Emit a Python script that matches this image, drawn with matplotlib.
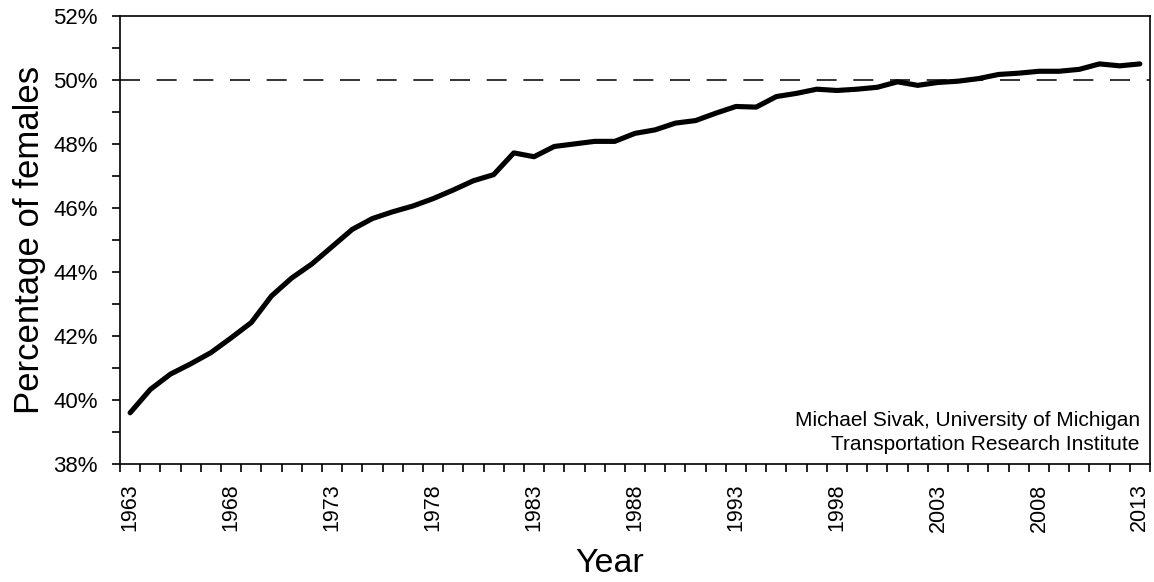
import matplotlib
matplotlib.use("Agg")
import matplotlib.pyplot as plt
import numpy as np
from matplotlib.ticker import FixedLocator, MultipleLocator, FuncFormatter

plt.rcParams["font.family"] = ["Liberation Sans", "DejaVu Sans"]

years = list(range(1963, 2014))
pct_female = [
    39.60, 40.33, 40.81, 41.13, 41.48, 41.94, 42.42, 43.25, 43.81, 44.25,
    44.79, 45.33, 45.67, 45.88, 46.06, 46.29, 46.56, 46.85, 47.04, 47.72,
    47.60, 47.92, 48.00, 48.08, 48.08, 48.33, 48.44, 48.65, 48.73, 48.96,
    49.17, 49.15, 49.48, 49.58, 49.71, 49.67, 49.71, 49.77, 49.94, 49.83,
    49.92, 49.96, 50.04, 50.17, 50.21, 50.27, 50.27, 50.33, 50.50, 50.44,
    50.50,
]
label_years = years[::5]
parity = 50.0

fig = plt.figure(figsize=(11.54, 5.82), dpi=100)
ax = fig.add_axes([0.104, 0.2027, 0.8925, 0.77])

ax.axhline(parity, color="#111111", linewidth=1.2, linestyle=(0, (12, 10)), zorder=1)
ax.plot(years, pct_female, color="black", linewidth=3.7, solid_capstyle="round",
        solid_joinstyle="round", zorder=3)

ax.set_xlim(years[0] - 0.5, years[-1] + 0.5)
ax.set_ylim(38, 52)

# ticks sit between categories, labels every 5 years
ax.xaxis.set_major_locator(FixedLocator(label_years))
ax.xaxis.set_minor_locator(FixedLocator(np.arange(years[0] - 0.5, years[-1] + 1.0, 1.0)))
ax.tick_params(axis="x", which="major", length=0, pad=14, labelsize=15.5, labelrotation=90)
ax.tick_params(axis="x", which="minor", length=6, width=1.2, direction="out")

ax.yaxis.set_major_locator(MultipleLocator(2))
ax.yaxis.set_minor_locator(MultipleLocator(1))
ax.yaxis.set_major_formatter(FuncFormatter(lambda v, _: f"{v:.0f}%"))
ax.tick_params(axis="y", which="both", length=6, width=1.2, direction="out",
               labelsize=16, pad=10)

for spine in ax.spines.values():
    spine.set_linewidth(1.2)

ax.set_xlabel("Year", fontsize=24.5, va="center")
ax.set_ylabel("Percentage of females", fontsize=25, va="center")
ax.xaxis.set_label_coords(0.475, -0.221)
ax.yaxis.set_label_coords(-0.0874, 0.5)

ax.text(0.990, 0.070, "Michael Sivak, University of Michigan\nTransportation Research Institute",
        transform=ax.transAxes, ha="right", va="center", fontsize=15, linespacing=1.3)

fig.savefig("out.png", dpi=100)
